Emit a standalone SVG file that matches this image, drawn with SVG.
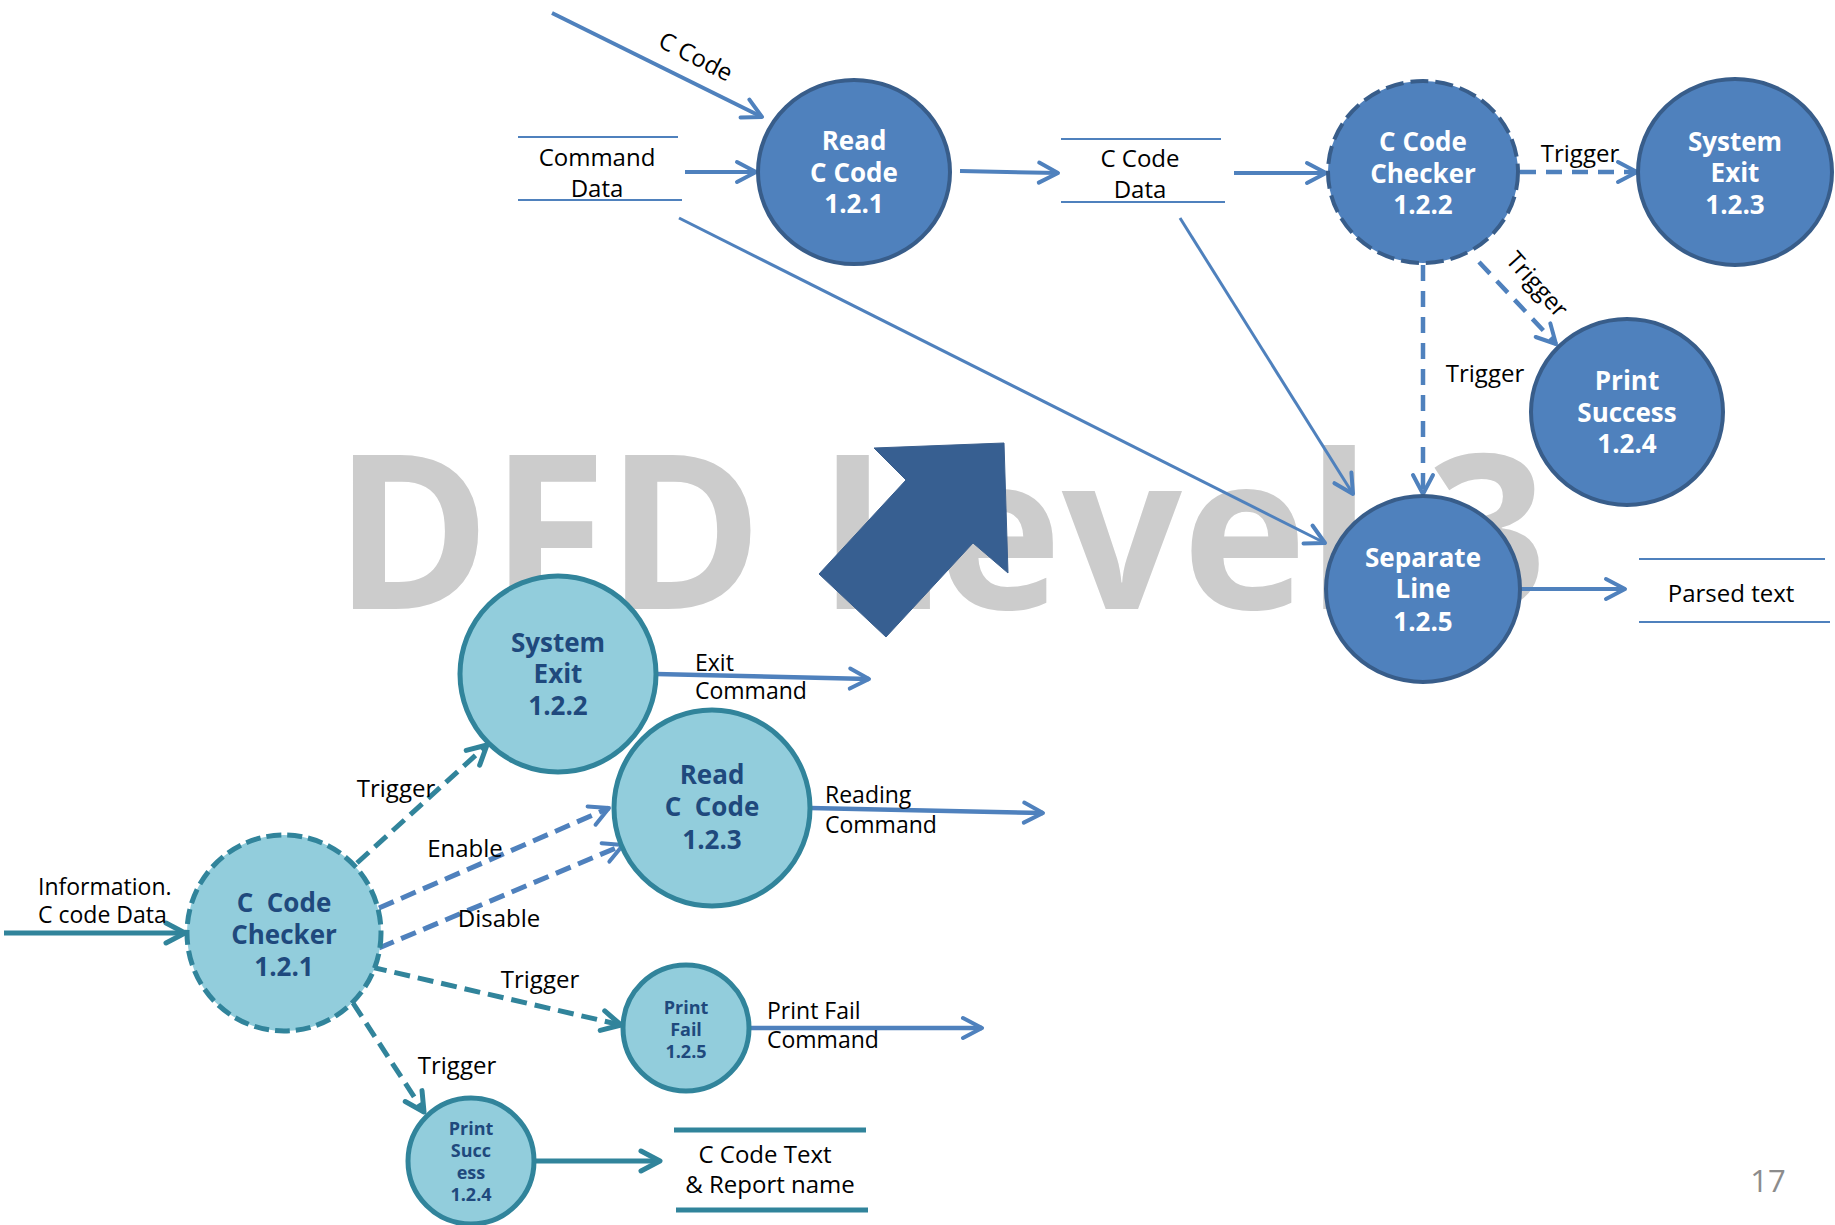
<svg xmlns="http://www.w3.org/2000/svg" width="1835" height="1225" viewBox="0 0 1835 1225">
<style>
text{font-family:"Open Sans","Noto Sans","Liberation Sans",sans-serif}
.wm{font-size:216px;font-weight:bold;fill:#CCCCCC}
.bn{fill:#4F81BD;stroke:#385D8A;stroke-width:4}
.bnd{fill:#4F81BD;stroke:#385D8A;stroke-width:4;stroke-dasharray:18 7}
.bt{font-size:26px;font-weight:bold;fill:#FFFFFF;text-anchor:middle}
.tn{fill:#92CDDC;stroke:#31849B;stroke-width:5}
.tnd{fill:#92CDDC;stroke:#31849B;stroke-width:5;stroke-dasharray:15 6}
.tt{font-size:26px;font-weight:bold;fill:#1F497D;text-anchor:middle}
.ts{font-size:18px;font-weight:bold;fill:#1F497D;text-anchor:middle}
.lb{font-size:24px;fill:#000000}
.lc{font-size:24px;fill:#000000;text-anchor:middle}
.ll{font-size:23px;fill:#000000}
.st{stroke:#4F81BD;stroke-width:2;fill:none}
.stt{stroke:#31849B;stroke-width:5;fill:none}
.cb{stroke:#4F81BD;stroke-width:4;fill:none;marker-end:url(#ab)}
.cbt{stroke:#4F81BD;stroke-width:3;fill:none;marker-end:url(#ab)}
.cbd{stroke:#4F81BD;stroke-width:4.5;fill:none;stroke-dasharray:16 10;marker-end:url(#ab)}
.ct{stroke:#31849B;stroke-width:5;fill:none;marker-end:url(#at)}
.ctd{stroke:#31849B;stroke-width:5;fill:none;stroke-dasharray:16 8;marker-end:url(#at)}
.cbd2{stroke:#4F81BD;stroke-width:5;fill:none;stroke-dasharray:16 8;marker-end:url(#ab)}
.cb2{stroke:#4F81BD;stroke-width:4.5;fill:none;marker-end:url(#ab)}
</style>
<defs>
<marker id="ab" markerUnits="userSpaceOnUse" viewBox="-26 -14 30 28" markerWidth="30" markerHeight="28" refX="0" refY="0" orient="auto">
<path d="M-19,-10 L0,0 L-19,10" fill="none" stroke="#4F81BD" stroke-width="4" stroke-linecap="round" stroke-linejoin="round"/>
</marker>
<marker id="at" markerUnits="userSpaceOnUse" viewBox="-26 -14 30 28" markerWidth="30" markerHeight="28" refX="0" refY="0" orient="auto">
<path d="M-19,-10 L0,0 L-19,10" fill="none" stroke="#31849B" stroke-width="5" stroke-linecap="round" stroke-linejoin="round"/>
</marker>
</defs>
<rect width="1835" height="1225" fill="#FFFFFF"/>
<text class="wm" x="334" y="609" textLength="1213" lengthAdjust="spacingAndGlyphs">DFD Level 3</text>
<polygon points="874,448 1004,443 1008,573 973,543 886,637 819,574 906,480" fill="#375F91" stroke="#3A5F8E" stroke-width="1"/>
<g id="connectors">
<line class="cb" x1="552" y1="13" x2="762" y2="117"/>
<text class="lb" transform="translate(692,64) rotate(27)" text-anchor="middle">C Code</text>
<line class="cb" x1="685" y1="172" x2="756" y2="172"/>
<line class="cb" x1="960" y1="171" x2="1058" y2="173"/>
<line class="cb" x1="1234" y1="173" x2="1326" y2="173"/>
<line class="cbd" x1="1520" y1="172" x2="1637" y2="172"/>
<text class="lc" x="1580" y="162" font-size="25">Trigger</text>
<line class="cbd" x1="1479" y1="262" x2="1556" y2="344"/>
<text class="lc" transform="translate(1531,290) rotate(48)">Trigger</text>
<line class="cbd" x1="1423" y1="265" x2="1423" y2="494"/>
<text class="lc" x="1485" y="382">Trigger</text>
<line class="cbt" x1="679" y1="218" x2="1325" y2="543"/>
<line class="cbt" x1="1180" y1="218" x2="1353" y2="494"/>
<line class="cb" x1="1521" y1="589" x2="1625" y2="589"/>
<line class="ct" x1="4" y1="933" x2="185" y2="933"/>
<text class="ll" x="38" y="895">Information.</text>
<text class="ll" x="38" y="923">C code Data</text>
<line class="ctd" x1="357" y1="863" x2="487" y2="745"/>
<text class="lc" x="396" y="797" font-size="23">Trigger</text>
<line class="cbd2" x1="379" y1="908" x2="609" y2="808"/>
<text class="lc" x="465" y="857" font-size="23">Enable</text>
<line class="cbd2" x1="379" y1="948" x2="623" y2="845"/>
<text class="lc" x="499" y="927" font-size="23">Disable</text>
<line class="ctd" x1="371" y1="967" x2="621" y2="1025"/>
<text class="lc" x="540" y="988" font-size="23">Trigger</text>
<line class="ctd" x1="353" y1="1003" x2="424" y2="1112"/>
<text class="lc" x="457" y="1074" font-size="23">Trigger</text>
<line class="cb2" x1="656" y1="674" x2="869" y2="679"/>
<text class="ll" x="695" y="671">Exit</text>
<text class="ll" x="695" y="699">Command</text>
<line class="cb2" x1="810" y1="808" x2="1043" y2="813"/>
<text class="ll" x="825" y="803">Reading</text>
<text class="ll" x="825" y="833">Command</text>
<line class="cb2" x1="749" y1="1028" x2="982" y2="1028"/>
<text class="ll" x="767" y="1019">Print Fail</text>
<text class="ll" x="767" y="1048">Command</text>
<line class="ct" x1="534" y1="1161" x2="660" y2="1161"/>
</g>
<g id="store-command-data">
<line class="st" x1="518" y1="137" x2="678" y2="137"/>
<line class="st" x1="518" y1="200" x2="682" y2="200"/>
<text class="lc" x="597" y="166" font-size="25">Command</text>
<text class="lc" x="597" y="197" font-size="25">Data</text>
</g>
<g id="store-c-code-data">
<line class="st" x1="1061" y1="139" x2="1221" y2="139"/>
<line class="st" x1="1061" y1="202" x2="1225" y2="202"/>
<text class="lc" x="1140" y="167" font-size="25">C Code</text>
<text class="lc" x="1140" y="198" font-size="25">Data</text>
</g>
<g id="store-parsed-text">
<line class="st" x1="1639" y1="559" x2="1825" y2="559"/>
<line class="st" x1="1639" y1="622" x2="1830" y2="622"/>
<text class="lc" x="1731" y="602" font-size="23">Parsed text</text>
</g>
<g id="store-c-code-text">
<line class="stt" x1="674" y1="1130" x2="866" y2="1130"/>
<line class="stt" x1="676" y1="1210" x2="868" y2="1210"/>
<text class="lc" x="765" y="1163">C Code Text</text>
<text class="lc" x="770" y="1193">&amp; Report name</text>
</g>
<g id="node-read-121">
<ellipse class="bn" cx="854" cy="172" rx="96" ry="92"/>
<text class="bt" x="854" y="150">Read</text>
<text class="bt" x="854" y="182">C Code</text>
<text class="bt" x="854" y="213">1.2.1</text>
</g>
<g id="node-checker-122">
<ellipse class="bnd" cx="1423" cy="172" rx="95" ry="91"/>
<text class="bt" x="1423" y="151">C Code</text>
<text class="bt" x="1423" y="183">Checker</text>
<text class="bt" x="1423" y="214">1.2.2</text>
</g>
<g id="node-exit-123">
<ellipse class="bn" cx="1735" cy="172" rx="97" ry="93"/>
<text class="bt" x="1735" y="151">System</text>
<text class="bt" x="1735" y="182">Exit</text>
<text class="bt" x="1735" y="214">1.2.3</text>
</g>
<g id="node-success-124">
<ellipse class="bn" cx="1627" cy="412" rx="96" ry="93"/>
<text class="bt" x="1627" y="390">Print</text>
<text class="bt" x="1627" y="422">Success</text>
<text class="bt" x="1627" y="453">1.2.4</text>
</g>
<g id="node-separate-125">
<ellipse class="bn" cx="1423" cy="589" rx="97" ry="93"/>
<text class="bt" x="1423" y="567">Separate</text>
<text class="bt" x="1423" y="598">Line</text>
<text class="bt" x="1423" y="631">1.2.5</text>
</g>
<g id="node-b-exit-122">
<ellipse class="tn" cx="558" cy="674" rx="98" ry="98"/>
<text class="tt" x="558" y="652">System</text>
<text class="tt" x="558" y="683">Exit</text>
<text class="tt" x="558" y="715">1.2.2</text>
</g>
<g id="node-b-read-123">
<ellipse class="tn" cx="712" cy="808" rx="98" ry="98"/>
<text class="tt" x="712" y="784">Read</text>
<text class="tt" x="712" y="816" xml:space="preserve">C  Code</text>
<text class="tt" x="712" y="849">1.2.3</text>
</g>
<g id="node-b-checker-121">
<ellipse class="tnd" cx="284" cy="933" rx="97" ry="98"/>
<text class="tt" x="284" y="912" xml:space="preserve">C  Code</text>
<text class="tt" x="284" y="944">Checker</text>
<text class="tt" x="284" y="976">1.2.1</text>
</g>
<g id="node-b-fail-125">
<ellipse class="tn" cx="686" cy="1028" rx="63" ry="63"/>
<text class="ts" x="686" y="1014">Print</text>
<text class="ts" x="686" y="1036">Fail</text>
<text class="ts" x="686" y="1058">1.2.5</text>
</g>
<g id="node-b-success-124">
<ellipse class="tn" cx="471" cy="1161" rx="63" ry="63"/>
<text class="ts" x="471" y="1135">Print</text>
<text class="ts" x="471" y="1157">Succ</text>
<text class="ts" x="471" y="1179">ess</text>
<text class="ts" x="471" y="1201">1.2.4</text>
</g>
<text x="1768" y="1192" font-size="31" fill="#8C8C8C" text-anchor="middle">17</text>
</svg>
